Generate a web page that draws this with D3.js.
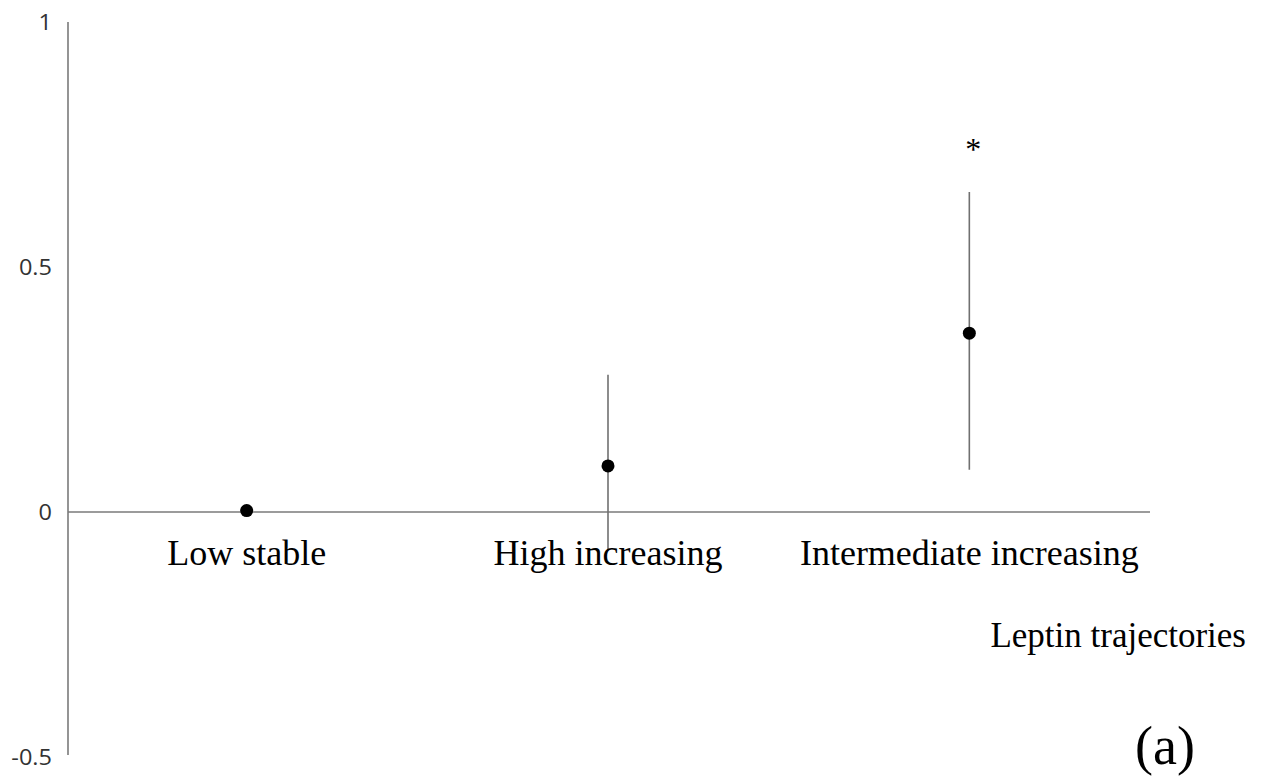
<!DOCTYPE html>
<html><head><meta charset="utf-8">
<script src="https://cdn.jsdelivr.net/npm/d3@7"></script>
<style>body{margin:0;background:#fff}svg{display:block}</style>
</head><body>
<svg id="c" width="1268" height="778"></svg>
<script>
const categories = ["Low stable", "High increasing", "Intermediate increasing"];
const estimates = [0.003, 0.094, 0.365];
const lowerCI = [null, -0.078, 0.086];
const upperCI = [null, 0.28, 0.653];
const significant = [false, false, true];
const yTicks = [1, 0.5, 0, -0.5];
const yTickLabels = ["1", "0.5", "0", "-0.5"];
const xTitle = "Leptin trajectories";
const panelLabel = "(a)";

const svg = d3.select("#c");
const x = d3.scaleBand().domain(categories).range([66, 1150]);
const y = d3.scaleLinear().domain([-0.5, 1]).range([757, 22]);
const axisColor = "#7a7a7a";

// y axis line
svg.append("line").attr("x1", 68).attr("x2", 68).attr("y1", y(1)).attr("y2", y(-0.5) - 2)
  .attr("stroke", axisColor).attr("stroke-width", 1.6);
// y tick labels (slightly stretched horizontally like the reference)
svg.selectAll("text.yt").data(yTicks).join("text").attr("class", "yt")
  .attr("transform", d => `translate(52,${y(d) + 8}) scale(1.12,1)`)
  .attr("text-anchor", "end")
  .attr("font-family", "'Open Sans', 'Liberation Sans', sans-serif").attr("font-size", 21).attr("fill", "#333")
  .text((d, i) => yTickLabels[i]);
// x axis line at 0
svg.append("line").attr("x1", 68).attr("x2", 1150).attr("y1", y(0)).attr("y2", y(0))
  .attr("stroke", axisColor).attr("stroke-width", 1.6);

const cx = d => x(d) + x.bandwidth() / 2;
const data = categories.map((c, i) => ({c, e: estimates[i], lo: lowerCI[i], hi: upperCI[i], s: significant[i]}));

// error bars
svg.selectAll("line.err").data(data.filter(d => d.lo !== null)).join("line").attr("class", "err")
  .attr("x1", d => cx(d.c)).attr("x2", d => cx(d.c)).attr("y1", d => y(d.hi)).attr("y2", d => y(d.lo))
  .attr("stroke", "#707070").attr("stroke-width", 1.6);
// points
svg.selectAll("circle").data(data).join("circle")
  .attr("cx", d => cx(d.c)).attr("cy", d => y(d.e)).attr("r", 6.5).attr("fill", "#000");
// asterisks
svg.selectAll("text.sig").data(data.filter(d => d.s)).join("text").attr("class", "sig")
  .attr("x", d => cx(d.c) + 4).attr("y", d => y(d.hi) - 32).attr("text-anchor", "middle")
  .attr("font-family", "'Liberation Serif', serif").attr("font-size", 32).attr("fill", "#000").text("*");
// category labels
svg.selectAll("text.cat").data(categories).join("text").attr("class", "cat")
  .attr("x", d => cx(d)).attr("y", 565).attr("text-anchor", "middle")
  .attr("font-family", "'Liberation Serif', 'Times New Roman', serif").attr("font-size", 36).attr("fill", "#000")
  .text(d => d);
svg.append("text").attr("x", 1246).attr("y", 647).attr("text-anchor", "end")
  .attr("font-family", "'Liberation Serif', serif").attr("font-size", 35).attr("fill", "#000").text(xTitle);
svg.append("text").attr("x", 1165).attr("y", 764).attr("text-anchor", "middle")
  .attr("font-family", "'Liberation Serif', serif").attr("font-size", 54).attr("fill", "#000").text(panelLabel);
</script>
</body></html>
